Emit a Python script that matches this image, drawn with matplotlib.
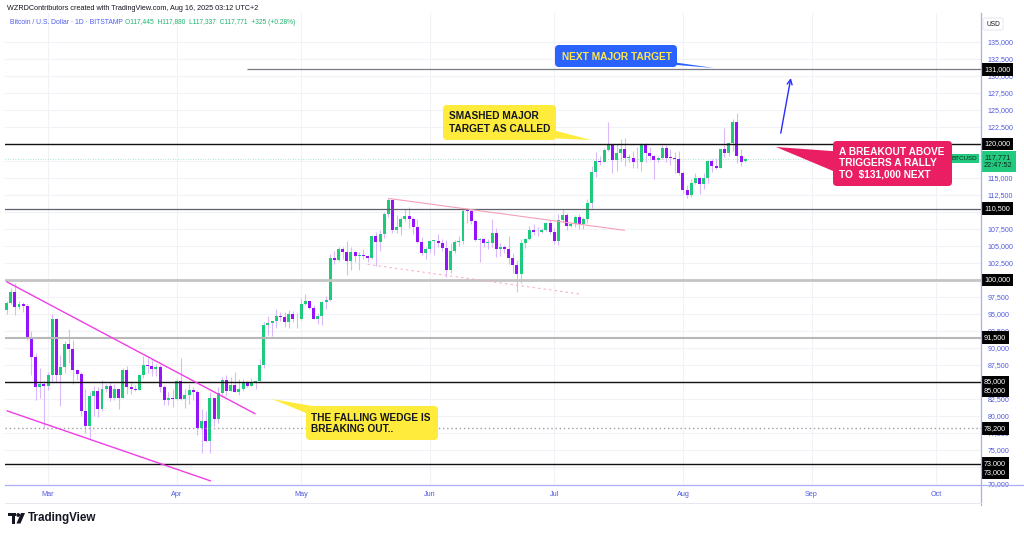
import numpy as np
import pandas as pd
import matplotlib as mpl
mpl.use('Agg')
import matplotlib.pyplot as plt
import matplotlib.dates as mdates
from matplotlib.patches import FancyBboxPatch, Polygon, Rectangle, Circle

mpl.rcParams['font.family'] = ['Liberation Sans', 'DejaVu Sans']

# daily BTCUSD candles (in thousands of USD), Feb 19 -> Aug 16 2025
days = pd.date_range('2025-02-19', '2025-08-16', freq='D')

opens = [95.6, 96.6, 98.3, 96.1, 96.5, 96.2, 91.5, 88.7, 84.3, 84.7,
         84.4, 86.0, 94.2, 86.1, 87.2, 90.6, 89.9, 86.8, 86.2, 80.7, 78.5, 82.9, 83.7, 81.1, 84.0, 84.4,
         82.6, 84.0, 82.7, 86.8, 84.2, 84.0, 83.8, 86.1, 87.5, 87.4, 86.9, 87.2, 84.3, 82.4, 82.6,
         82.5, 85.2, 82.5, 83.1, 83.8, 83.5, 78.2, 79.2, 76.3, 82.6, 79.6, 83.4, 85.3, 83.7, 84.5,
         83.6, 84.0, 84.9, 84.4, 85.0, 85.1, 87.5, 93.4, 93.7, 93.9, 94.7, 94.6, 93.8, 95.0, 94.3,
         94.2, 96.5, 96.9, 95.9, 94.3, 94.7, 96.8, 97.0, 103.2, 102.9, 104.6, 104.1, 102.8, 104.1, 103.5,
         103.7, 103.5, 103.2, 106.4, 105.6, 106.8, 109.7, 111.7, 107.3, 107.8, 109.0, 109.4, 108.9, 107.8,
         105.6, 103.9,
         104.6, 105.7, 105.8, 105.4, 104.7, 101.5, 104.3, 105.6, 105.7, 110.3, 110.2, 108.7, 105.9, 106.0,
         105.4, 105.5, 106.9, 104.5, 104.8, 104.6, 103.3, 102.2, 100.9, 105.5, 106.0, 107.3, 107.0, 107.1,
         107.3, 108.4,
         107.1, 105.7, 108.8, 109.6, 108.0, 108.2, 109.2, 108.2, 108.9, 111.3, 115.9, 117.5, 117.4, 119.1,
         119.8, 117.7, 118.7, 119.2, 117.9, 117.9, 117.3, 117.4, 120.0, 118.7, 118.3, 117.6, 117.9, 119.4,
         118.0, 117.9, 117.8,
         115.7, 113.3, 112.5, 114.2, 115.0, 114.1, 115.0, 117.5, 116.7, 116.5, 119.3, 118.7, 120.1, 123.3,
         118.3, 117.445]
highs = [96.9, 98.8, 99.5, 96.9, 96.7, 96.5, 92.5, 89.3, 87.0, 85.1,
         86.5, 95.0, 94.4, 88.9, 91.0, 92.8, 91.2, 86.9, 86.5, 84.0, 83.6, 84.4, 84.3, 85.3, 84.7, 85.0,
         84.7, 84.0, 87.0, 87.4, 85.0, 84.5, 86.1, 88.8, 88.5, 88.3, 87.7, 87.5, 84.6, 83.5, 83.9,
         85.5, 88.5, 83.9, 84.7, 84.2, 83.8, 81.1, 80.8, 83.5, 82.7, 84.2, 85.8, 86.1, 85.8, 86.4,
         85.4, 85.4, 85.1, 85.6, 85.3, 88.4, 93.8, 94.7, 94.0, 95.7, 95.3, 95.3, 95.6, 95.5, 95.2,
         97.4, 97.9, 96.9, 96.3, 95.2, 96.9, 97.7, 103.8, 104.3, 104.9, 104.9, 105.8, 104.9, 104.3, 104.1,
         104.5, 103.7, 106.6, 107.1, 107.3, 110.0, 112.0, 111.9, 109.5, 109.3, 110.4, 110.7, 109.3, 108.9,
         106.3, 104.9,
         105.9, 105.9, 106.8, 106.0, 105.9, 105.4, 105.9, 106.4, 110.5, 110.6, 110.4, 108.8, 106.2, 106.2,
         106.1, 108.9, 107.7, 105.5, 105.2, 106.5, 104.0, 103.0, 106.0, 106.2, 108.0, 108.3, 107.8, 107.6,
         108.5, 108.8,
         107.6, 109.7, 110.5, 109.8, 108.4, 109.6, 109.7, 109.2, 111.9, 116.8, 118.8, 118.2, 119.4, 123.2,
         119.9, 120.0, 120.7, 120.9, 118.5, 118.9, 119.6, 120.2, 120.2, 119.5, 118.4, 118.3, 119.8, 119.8,
         119.3, 118.8, 118.9,
         116.0, 114.0, 114.8, 115.7, 115.1, 115.7, 117.7, 117.8, 117.9, 119.3, 122.3, 120.3, 123.7, 124.5,
         119.2, 117.88]
lows = [95.0, 96.4, 94.8, 95.7, 95.3, 91.2, 86.0, 82.3, 82.7, 78.2,
        83.8, 85.0, 85.0, 81.5, 86.3, 87.8, 84.7, 85.3, 80.0, 77.5, 76.6, 80.0, 79.9, 80.8, 83.6, 82.2,
        82.4, 81.1, 82.6, 83.2, 83.2, 83.7, 83.8, 85.6, 86.3, 85.9, 85.9, 83.6, 81.6, 81.6, 81.3,
        82.4, 82.3, 81.2, 81.7, 82.4, 77.2, 74.5, 76.2, 74.6, 78.5, 78.9, 82.8, 82.9, 83.7, 83.6,
        83.1, 83.7, 84.3, 84.4, 83.9, 85.1, 87.1, 91.9, 91.7, 92.9, 93.9, 93.1, 92.9, 93.8, 92.9,
        94.1, 96.3, 95.7, 94.2, 93.5, 93.4, 95.8, 96.9, 102.3, 102.8, 103.1, 100.8, 101.5, 102.6, 101.4,
        103.1, 102.6, 103.1, 102.0, 104.2, 106.2, 109.3, 106.9, 106.9, 106.6, 108.7, 107.6, 106.8, 105.4,
        103.7, 103.1,
        103.9, 103.7, 104.9, 104.2, 100.4, 101.1, 103.9, 105.0, 105.3, 108.4, 108.3, 105.7, 102.7, 104.8,
        104.6, 104.9, 103.4, 103.5, 103.9, 102.4, 101.0, 98.2, 99.6, 104.7, 105.9, 106.6, 106.4, 106.9,
        107.2, 106.8,
        105.3, 105.2, 108.6, 107.3, 107.8, 107.8, 107.5, 107.5, 108.4, 110.6, 115.2, 116.9, 117.3, 118.9,
        115.7, 116.0, 117.5, 116.8, 117.4, 116.5, 116.5, 116.1, 117.3, 117.6, 114.8, 117.3, 117.8, 117.4,
        116.9, 115.8, 115.5,
        112.7, 112.0, 112.2, 114.1, 112.7, 113.4, 114.3, 115.9, 116.3, 116.5, 118.1, 118.2, 118.9, 117.2,
        116.8, 117.337]
closes = [96.6, 98.3, 96.1, 96.5, 96.2, 91.5, 88.7, 84.3, 84.7, 84.4,
          86.0, 94.2, 86.1, 87.2, 90.6, 89.9, 86.8, 86.2, 80.7, 78.5, 82.9, 83.7, 81.1, 84.0, 84.4, 82.6,
          84.0, 82.7, 86.8, 84.2, 84.0, 83.8, 86.1, 87.5, 87.4, 86.9, 87.2, 84.3, 82.4, 82.6, 82.5,
          85.2, 82.5, 83.1, 83.8, 83.5, 78.2, 79.2, 76.3, 82.6, 79.6, 83.4, 85.3, 83.7, 84.5, 83.6,
          84.0, 84.9, 84.4, 85.0, 85.1, 87.5, 93.4, 93.7, 93.9, 94.7, 94.6, 93.8, 95.0, 94.3, 94.2,
          96.5, 96.9, 95.9, 94.3, 94.7, 96.8, 97.0, 103.2, 102.9, 104.6, 104.1, 102.8, 104.1, 103.5, 103.7,
          103.5, 103.2, 106.4, 105.6, 106.8, 109.7, 111.7, 107.3, 107.8, 109.0, 109.4, 108.9, 107.8, 105.6,
          103.9, 104.6,
          105.7, 105.8, 105.4, 104.7, 101.5, 104.3, 105.6, 105.7, 110.2, 110.2, 108.7, 105.9, 106.0, 105.4,
          105.5, 106.9, 104.5, 104.8, 104.6, 103.3, 102.2, 100.9, 105.5, 106.0, 107.3, 107.0, 107.1, 107.3,
          108.4, 107.1,
          105.7, 108.8, 109.6, 108.0, 108.2, 109.2, 108.2, 108.9, 111.3, 115.9, 117.5, 117.4, 119.1, 119.8,
          117.7, 118.7, 119.2, 117.9, 117.9, 117.3, 117.4, 120.0, 118.7, 118.3, 117.6, 117.9, 119.4, 118.0,
          117.9, 117.8, 115.7,
          113.3, 112.5, 114.2, 115.0, 114.1, 115.0, 117.5, 116.7, 116.5, 119.3, 118.7, 120.1, 123.3, 118.3,
          117.4, 117.771]

# horizontal levels drawn on the chart
levels = [131000, 120000, 110500, 100000, 91500, 85000, 78200, 73000]
level_131_start = '2025-04-18'
last_price = 117771

# trendlines (dates, prices)
wedge_upper = (['2025-02-19', '2025-04-20'], [99750, 80300])
wedge_lower = (['2025-02-19', '2025-04-09 06:00'], [80780, 70440])
channel_upper = (['2025-05-22', '2025-07-18'], [112000, 107300])
channel_lower = (['2025-05-17', '2025-07-07'], [102300, 97950])
target_arrow = (['2025-08-24 14:00', '2025-08-27'], [121600, 129700])

price_ticks = list(range(70000, 135001, 2500))
hidden_ticks = [72500, 85000, 100000, 110000, 117500, 120000]  # sit under the level boxes

W, H = 1024, 535
GREEN = '#1ecb7c'
PURPLE = '#9512fb'
WICK = '#d9b9fa'
AXC = '#4f5ae0'
LINEC = '#a9acf5'


def fx(px):
    return px / W


def fy(py):
    return 1 - py / H


def dnum(d):
    return mdates.date2num(pd.to_datetime(d, format='ISO8601'))


fig = plt.figure(figsize=(W / 100, H / 100), dpi=100)
ax = fig.add_axes([fx(5), fy(484), fx(981) - fx(5), fy(13) - fy(484)])

o = np.array(opens) * 1000
hi = np.array(highs) * 1000
lo = np.array(lows) * 1000
c = np.array(closes) * 1000
x = mdates.date2num(days)
up = c >= o
cols = np.where(up, GREEN, PURPLE)

ax.vlines(x, lo, hi, color=WICK, lw=0.8, zorder=2)
body = np.maximum(np.abs(c - o), 120)
ax.bar(x, body, bottom=np.minimum(o, c), width=0.72, color=cols, linewidth=0, zorder=2.2)

# levels
full = dict(zorder=3)
ax.hlines(levels[0], dnum(level_131_start), x[-1] + 80, color='#787b86', lw=0.9, zorder=3)
ax.axhline(levels[1], color='#111111', lw=1.0, **full)
ax.axhline(levels[2], color='#5d606b', lw=0.9, **full)
ax.axhline(levels[3], color='#c4c4c4', lw=2.0, **full)
ax.axhline(levels[4], color='#b8b8b8', lw=1.5, **full)
ax.axhline(levels[5], color='#111111', lw=1.0, **full)
ax.axhline(levels[6], color='#9a9da6', lw=1.0, ls=(0, (1, 2)), **full)
ax.axhline(levels[7], color='#111111', lw=1.0, **full)
ax.axhline(last_price, color='#8fdcb9', lw=0.6, ls=(0, (1, 2)), zorder=1.5)


def tline(seg, **kw):
    d, p = seg
    ax.plot(dnum(d), p, solid_capstyle='butt', **kw)


tline(wedge_upper, color='#f03ee6', lw=1.0, zorder=3)
tline(wedge_lower, color='#f03ee6', lw=1.0, zorder=3)
tline(channel_upper, color='#f4a0b6', lw=0.8, zorder=3)
tline(channel_lower, color='#f6aec2', lw=0.8, ls=(0, (2, 3)), zorder=3)

ad, ap = target_arrow
ad = dnum(ad)
ax.annotate('', xy=(ad[1], ap[1]), xytext=(ad[0], ap[0]),
            arrowprops=dict(arrowstyle='->', color='#2b2bff', lw=1.0, mutation_scale=9,
                            shrinkA=0, shrinkB=0), zorder=4)

ax.set_xlim(dnum('2025-02-18 15:00'), dnum('2025-10-11 20:00'))
ax.set_ylim(70000, 139265)

ax.set_yticks(price_ticks)
ax.yaxis.set_major_formatter(mpl.ticker.FuncFormatter(
    lambda v, p: '' if int(round(v)) in hidden_ticks else f'{v:,.0f}'))
ax.yaxis.tick_right()
ax.xaxis.set_major_locator(mdates.MonthLocator())
ax.xaxis.set_major_formatter(mdates.DateFormatter('%b'))
ax.tick_params(axis='y', length=0, pad=4.5, labelsize=5.1, labelcolor=AXC)
ax.tick_params(axis='x', length=0, pad=4.8, labelsize=5.2, labelcolor=AXC)
ax.grid(True, color='#f0f2f7', lw=0.8, zorder=0)
ax.set_axisbelow(True)
for s in ['top', 'left', 'right', 'bottom']:
    ax.spines[s].set_visible(False)

# axis frame lines
fig.add_artist(plt.Line2D([fx(5), fx(1024)], [fy(484.5), fy(484.5)], color=LINEC, lw=0.9))
fig.add_artist(plt.Line2D([fx(981), fx(981)], [fy(13), fy(505)], color=LINEC, lw=0.9))
fig.add_artist(plt.Line2D([fx(5), fx(981)], [fy(503), fy(503)], color='#e6e8ef', lw=0.7))

# price axis labels for the levels
lab_kw = dict(xycoords=ax.get_yaxis_transform(), textcoords='offset points', ha='left', va='center',
              fontsize=5.2, color='white', annotation_clip=False, zorder=20,
              bbox=dict(boxstyle='square,pad=0.4', fc='black', ec='none'))
for lv in levels:
    ax.annotate(f'{lv:,}', xy=(1, lv), xytext=(2.2, 0), **lab_kw)
ax.annotate(f'{levels[5]:,}', xy=(1, levels[5]), xytext=(2.2, -6.5), **lab_kw)
ax.annotate(f'{levels[7]:,}', xy=(1, levels[7]), xytext=(2.2, -6.5), **lab_kw)
ax.annotate(f'{last_price:,}\n22:47:52', xy=(1, last_price), xytext=(2.2, -1.5), xycoords=ax.get_yaxis_transform(),
            textcoords='offset points', ha='left', va='center', fontsize=5.3, color='#0d2b1c',
            linespacing=1.15, annotation_clip=False, zorder=20,
            bbox=dict(boxstyle='square,pad=0.4', fc='#22c97f', ec='none'))
ax.annotate('BTCUSD', xy=(1, last_price), xytext=(-2.5, 0.5), xycoords=ax.get_yaxis_transform(),
            textcoords='offset points', ha='right', va='center', fontsize=4.5, color='#0d2b1c',
            annotation_clip=False, zorder=20,
            bbox=dict(boxstyle='square,pad=0.3', fc='#22c97f', ec='none'))

# overlay in reference pixel space for header, callouts and logo
ov = fig.add_axes([0, 0, 1, 1], zorder=10)
ov.set_xlim(0, W)
ov.set_ylim(H, 0)
ov.axis('off')

ov.text(7, 8, 'WZRDContributors created with TradingView.com, Aug 16, 2025 03:12 UTC+2',
        fontsize=5.2, color='#131722', va='center', ha='left')
ov.text(10, 22, 'Bitcoin / U.S. Dollar · 1D · BITSTAMP', fontsize=4.9, color='#4e5cf0',
        va='center', ha='left')
ov.text(125, 22, 'O117,445  H117,880  L117,337  C117,771  +325 (+0.28%)', fontsize=4.75,
        color='#1db36e', va='center', ha='left')

ov.add_patch(FancyBboxPatch((983, 18), 20, 12, boxstyle='round,pad=0,rounding_size=2',
                            fc='white', ec='#e0e3eb', lw=0.6))
ov.text(993, 24, 'USD', fontsize=4.8, color='#131722', ha='center', va='center')


def callout(box, tail, fc, text, tcol, tx, ty, ls=1.25):
    ov.add_patch(Polygon(tail, closed=True, fc=fc, ec='none'))
    x0, y0, x1, y1 = box
    ov.add_patch(FancyBboxPatch((x0, y0), x1 - x0, y1 - y0,
                                boxstyle='round,pad=0,rounding_size=4', fc=fc, ec='none'))
    ov.text(tx, ty, text, color=tcol, fontsize=7.3, fontweight='bold', ha='left', va='center',
            linespacing=ls)


callout((555, 45, 677, 67), [(640, 62), (672, 62), (714, 68)], '#2962ff',
        'NEXT MAJOR TARGET', '#ffe84a', 562, 56.5)
callout((443, 105, 556, 140), [(545, 128), (545, 138), (591, 140)], '#ffeb3b',
        'SMASHED MAJOR\nTARGET AS CALLED', '#131722', 449, 122.5, 1.3)
callout((833, 141, 952, 186), [(845, 152), (845, 176), (776, 147)], '#e91e63',
        'A BREAKOUT ABOVE\nTRIGGERS A RALLY\nTO  $131,000 NEXT', 'white', 839, 163.5, 1.15)
callout((306, 406, 438, 440), [(318, 407), (318, 418), (272, 399)], '#ffeb3b',
        'THE FALLING WEDGE IS\nBREAKING OUT..', '#131722', 311, 423.5, 1.2)

# TradingView logo
ov.add_patch(Rectangle((8, 513), 7.5, 3.2, fc='#131722', ec='none'))
ov.add_patch(Rectangle((11.5, 513), 3.6, 10.5, fc='#131722', ec='none'))
ov.add_patch(Circle((18.2, 515), 1.9, fc='#131722', ec='none'))
ov.add_patch(Polygon([(21, 513), (25, 513), (20.5, 523.5), (16.5, 523.5)], closed=True,
                     fc='#131722', ec='none'))
ov.text(28, 518.5, 'TradingView', fontsize=8.4, fontweight='bold', color='#131722',
        ha='left', va='center')

fig.savefig('out.png', dpi=100, facecolor='white')
